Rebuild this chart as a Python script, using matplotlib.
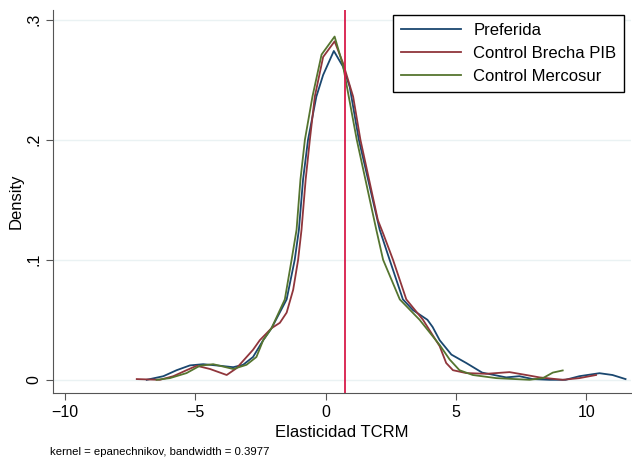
import matplotlib
matplotlib.use("Agg")
import matplotlib.pyplot as plt

plt.rcParams["font.family"] = ["Liberation Sans", "DejaVu Sans"]

# Valores (densidad kernel)
x_pref = [-6.87, -6.23, -5.72, -5.21, -4.7, -4.06, -3.55, -3.17, -2.79, -2.4, -2.08,
          -1.5, -1.19, -1.03, -0.87, -0.68, -0.36, -0.1, 0.31, 0.66, 0.92, 1.27,
          2.07, 2.45, 2.96, 3.35, 3.9, 4.1, 4.37, 4.82, 5.39, 6.0, 6.92, 7.43,
          7.94, 8.58, 9.2, 9.73, 10.5, 11.0, 11.5]
y_pref = [0.0, 0.003, 0.008, 0.012, 0.013, 0.0117, 0.0105, 0.0125, 0.019, 0.033, 0.043,
          0.067, 0.10, 0.125, 0.167, 0.20, 0.236, 0.254, 0.274, 0.261, 0.244, 0.20,
          0.125, 0.10, 0.067, 0.058, 0.05, 0.044, 0.033, 0.021, 0.014, 0.006, 0.002, 0.003,
          0.0006, 0.0, 0.0, 0.003, 0.0055, 0.004, 0.0006]

x_brecha = [-7.25, -6.36, -5.85, -5.34, -4.95, -4.44, -3.8, -3.42, -2.79, -2.53, -2.08,
            -1.76, -1.5, -1.25, -1.06, -0.93, -0.77, -0.61, -0.42, -0.1, 0.34, 0.66,
            1.05, 1.33, 2.0, 2.2, 2.58, 3.09, 3.73, 4.37, 4.62, 4.88, 5.39, 6.16,
            7.05, 7.69, 8.2, 9.09, 9.73, 10.37]
y_brecha = [0.0006, 0.0, 0.003, 0.008, 0.0117, 0.009, 0.004, 0.0097, 0.025, 0.033, 0.043,
            0.0475, 0.056, 0.075, 0.10, 0.125, 0.167, 0.20, 0.236, 0.269, 0.282, 0.264,
            0.236, 0.20, 0.133, 0.122, 0.10, 0.067, 0.05, 0.028, 0.014, 0.008, 0.0056, 0.005,
            0.0064, 0.004, 0.002, 0.0, 0.0014, 0.004]

x_merco = [-6.49, -5.98, -5.34, -4.83, -4.32, -3.93, -3.55, -3.04, -2.66, -2.4, -2.08,
           -1.57, -1.31, -1.12, -0.97, -0.8, -0.51, -0.16, 0.34, 0.66, 1.19, 1.94,
           2.2, 2.84, 3.6, 4.37, 4.75, 5.13, 5.64, 6.54, 7.82, 8.33, 8.71, 9.09]
y_merco = [0.0, 0.0014, 0.0056, 0.0117, 0.013, 0.011, 0.009, 0.0125, 0.019, 0.033, 0.043,
           0.067, 0.10, 0.125, 0.167, 0.20, 0.236, 0.271, 0.286, 0.262, 0.20, 0.125,
           0.10, 0.067, 0.05, 0.029, 0.017, 0.008, 0.004, 0.0014, 0.0, 0.0014, 0.006, 0.0078]

x_linea = 0.73
etiquetas = ["Preferida", "Control Brecha PIB", "Control Mercosur"]
colores = ["#1a476f", "#90353b", "#55752f"]

fig = plt.figure(figsize=(6.32, 4.61), dpi=100)
ax = fig.add_axes([0.084, 0.1475, 0.914, 0.8305])

ax.plot(x_pref, y_pref, color=colores[0], lw=1.3, label=etiquetas[0])
ax.plot(x_brecha, y_brecha, color=colores[1], lw=1.3, label=etiquetas[1])
ax.plot(x_merco, y_merco, color=colores[2], lw=1.3, label=etiquetas[2])
ax.axvline(x_linea, color="#d81b4a", lw=1.3)

ax.set_xlim(-10.46, 11.7)
ax.set_ylim(-0.011, 0.308)
ax.set_xticks([-10, -5, 0, 5, 10])
ax.set_yticks([0, 0.1, 0.2, 0.3])
ax.set_yticklabels(["0", ".1", ".2", ".3"], rotation=90, va="center")
ax.grid(axis="y", color="#eaf2f3", lw=1)
ax.set_axisbelow(True)
for s in ["top", "right"]:
    ax.spines[s].set_visible(False)
for s in ["left", "bottom"]:
    ax.spines[s].set_color("#555555")
ax.tick_params(labelsize=11.5, length=5, color="#555555")

ax.set_xlabel("Elasticidad TCRM", fontsize=12, labelpad=4)
ax.set_ylabel("Density", fontsize=12, labelpad=2)

leg = ax.legend(loc="upper right", bbox_to_anchor=(0.988, 0.987), fontsize=12,
                frameon=True, fancybox=False, edgecolor="black", framealpha=1,
                handlelength=3.6, handletextpad=0.75, labelspacing=0.5,
                borderpad=0.45, borderaxespad=0)
leg.get_frame().set_linewidth(1)

fig.text(0.079, 0.013, "kernel = epanechnikov, bandwidth = 0.3977", fontsize=8.2,
         va="baseline")

fig.savefig("out.png", dpi=100)
